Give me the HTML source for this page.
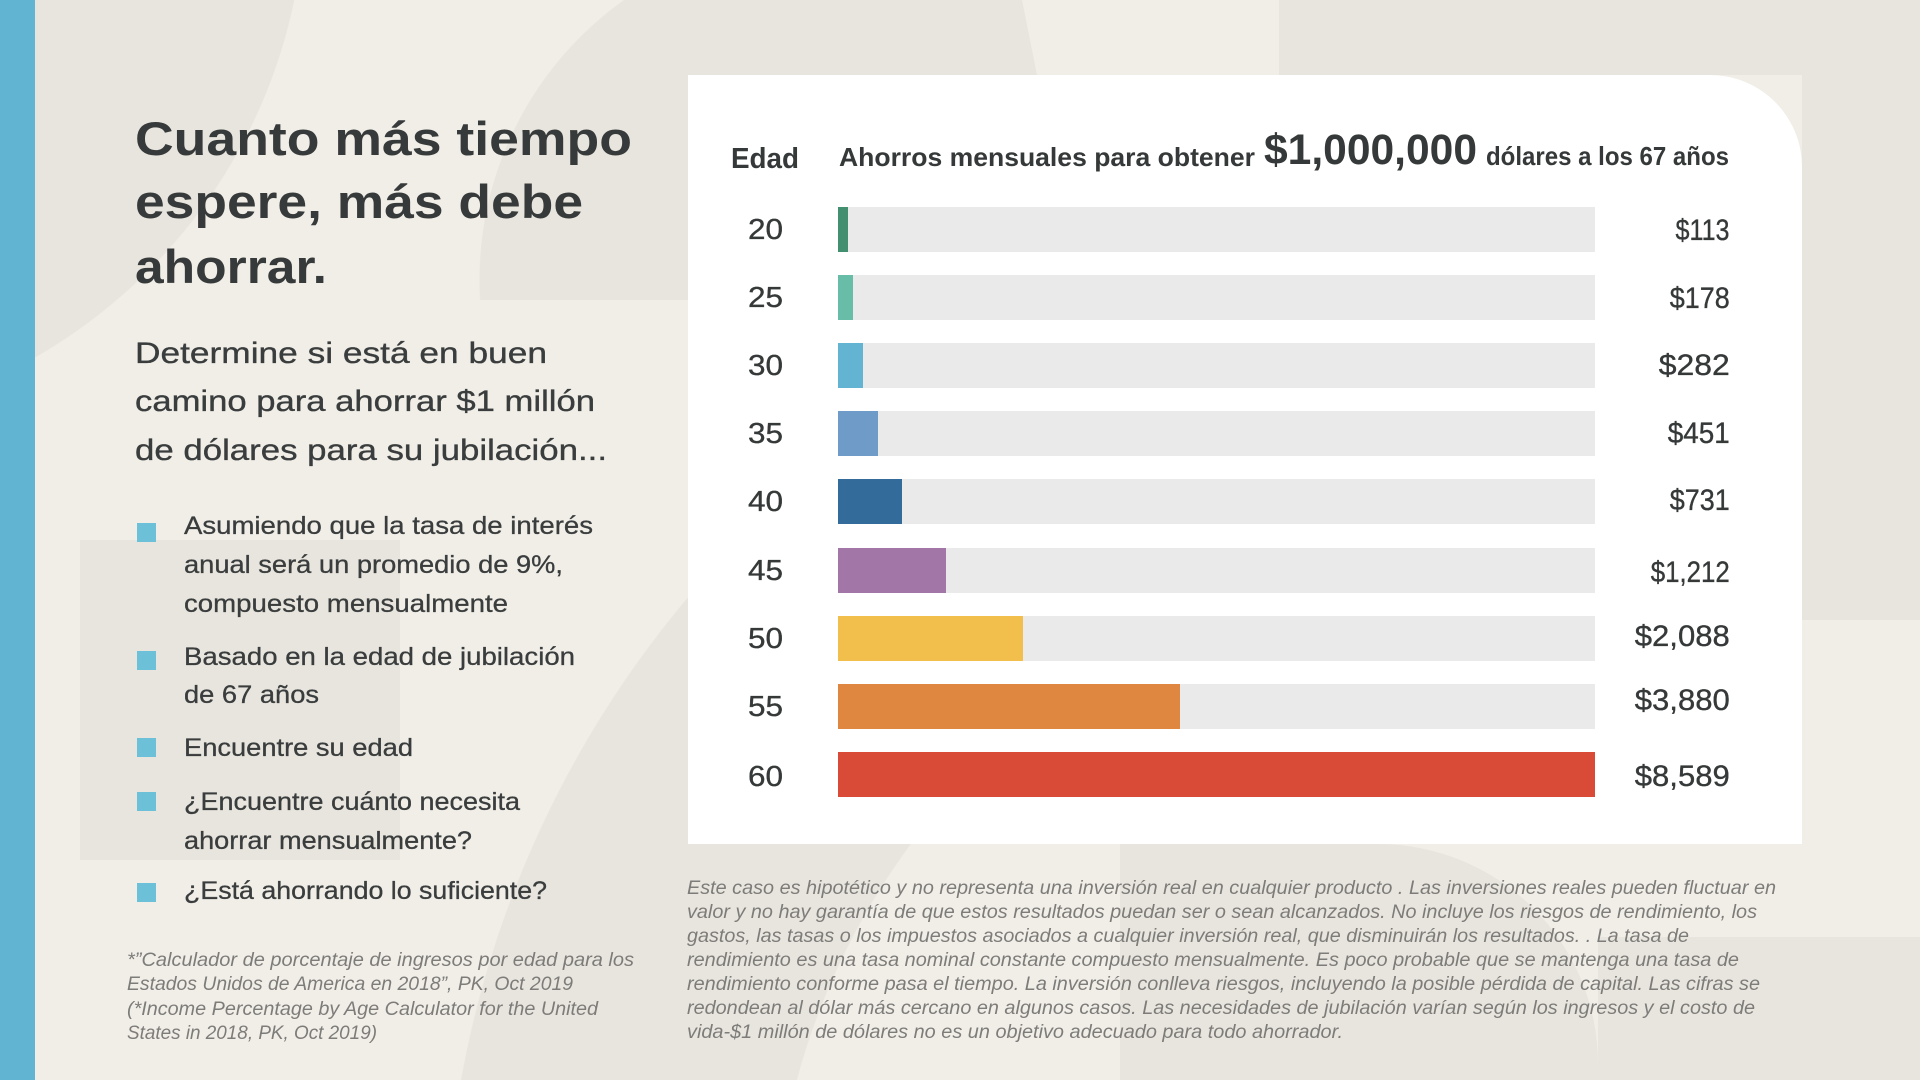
<!DOCTYPE html>
<html><head><meta charset="utf-8"><style>
html,body{margin:0;padding:0;width:1920px;height:1080px;overflow:hidden}
body{background:#f1eee8;font-family:"Liberation Sans",Arial,sans-serif;color:#3a3d3d}
#root{position:relative;width:1920px;height:1080px;overflow:hidden;background:#f1eee8}
.a{position:absolute}
.d{background:#e8e5de}
.t{position:absolute;white-space:nowrap;line-height:1;transform-origin:0 50%}
.ti{font-weight:bold;font-size:47px;left:135px;color:#373a3a}
.su{font-size:30px;left:135px;-webkit-text-stroke:0.35px #3a3d3d}
.bu{font-size:25px;left:184px;-webkit-text-stroke:0.3px #3a3d3d}
.sq{position:absolute;left:137px;width:19px;height:19px;background:#6cc0d7}
.fn{font-size:19px;font-style:italic;color:#7d7c79}
.fl{left:127px}
.fr{left:687px}
.trk{position:absolute;left:838px;width:757px;height:45px;background:#e9eae9}
.fil{position:absolute;left:0;top:0;height:45px}
.ag{font-size:29px;left:748px;-webkit-text-stroke:0.35px #363939;color:#363939}
.va{font-size:30px;right:190px;transform-origin:100% 50%;-webkit-text-stroke:0.35px #363939;color:#363939}
.hd{font-weight:bold;color:#363939}
</style></head><body>
<div id="root">

<!-- background shapes -->
<div class="a" style="left:0;top:0;width:400px;height:400px;background:radial-gradient(circle at -232px -109px,#e8e5de 537px,rgba(232,229,222,0) 538px)"></div>
<div class="a" style="left:0;top:0;width:1100px;height:300px;clip-path:polygon(0 0,1022px 0,1040px 90px,1040px 300px,0 300px);background:radial-gradient(circle at 823px 280px,#e8e5de 343px,rgba(232,229,222,0) 344px)"></div>
<div class="a d" style="left:1279px;top:0;width:641px;height:75px"></div>
<div class="a d" style="left:1802px;top:0;width:118px;height:620px"></div>
<div class="a d" style="left:80px;top:540px;width:320px;height:320px"></div>
<div class="a" style="left:0;top:300px;width:1120px;height:780px;background:radial-gradient(circle at 1479px 964px,rgba(232,229,222,0) 706px,#e8e5de 707px,#e8e5de 1034px,rgba(232,229,222,0) 1035px)"></div>
<div class="a d" style="left:1120px;top:844px;width:478px;height:236px;border-top-right-radius:220px"></div>
<div class="a d" style="left:1598px;top:937px;width:322px;height:143px"></div>

<!-- left stripe -->
<div class="a" style="left:0;top:0;width:35px;height:1080px;background:#62b4d3"></div>

<!-- title -->
<div class="t ti" style="top:115px;--w:497px">Cuanto más tiempo</div>
<div class="t ti" style="top:178px;--w:448px">espere, más debe</div>
<div class="t ti" style="top:243px;--w:192px">ahorrar.</div>

<!-- subtitle -->
<div class="t su" style="top:338.6px;--w:412px">Determine si está en buen</div>
<div class="t su" style="top:386.6px;--w:460px">camino para ahorrar $1 millón</div>
<div class="t su" style="top:435.6px;--w:472px">de dólares para su jubilación...</div>

<!-- bullets -->
<div class="sq" style="top:523px"></div>
<div class="sq" style="top:651px"></div>
<div class="sq" style="top:738px"></div>
<div class="sq" style="top:792px"></div>
<div class="sq" style="top:883px"></div>
<div class="t bu" style="top:513.8px;--w:409px">Asumiendo que la tasa de interés</div>
<div class="t bu" style="top:552.8px;--w:379px">anual será un promedio de 9%,</div>
<div class="t bu" style="top:591.8px;--w:324px">compuesto mensualmente</div>
<div class="t bu" style="top:644.8px;--w:391px">Basado en la edad de jubilación</div>
<div class="t bu" style="top:682.8px;--w:135px">de 67 años</div>
<div class="t bu" style="top:735.8px;--w:229px">Encuentre su edad</div>
<div class="t bu" style="top:789.8px;--w:336px">¿Encuentre cuánto necesita</div>
<div class="t bu" style="top:828.8px;--w:288px">ahorrar mensualmente?</div>
<div class="t bu" style="top:878.8px;--w:363px">¿Está ahorrando lo suficiente?</div>

<!-- left footnote -->
<div class="t fn fl" style="top:950.9px;--w:507px">*”Calculador de porcentaje de ingresos por edad para los</div>
<div class="t fn fl" style="top:975.2px;--w:446px">Estados Unidos de America en 2018”, PK, Oct 2019</div>
<div class="t fn fl" style="top:999.5px;--w:471px">(*Income Percentage by Age Calculator for the United</div>
<div class="t fn fl" style="top:1023.9px;--w:250px">States in 2018, PK, Oct 2019)</div>

<!-- card -->
<div class="a" style="left:688px;top:75px;width:1114px;height:769px;background:#fff;border-top-right-radius:92px"></div>

<!-- chart header -->
<div class="t hd" style="left:731px;top:144.5px;font-size:29px;--w:68px">Edad</div>
<div class="t hd" style="left:839px;top:144px;font-size:26px;--w:416px">Ahorros mensuales para obtener</div>
<div class="t hd" style="left:1264px;top:128.6px;font-size:43px;--w:213px">$1,000,000</div>
<div class="t hd" style="left:1486px;top:143px;font-size:26px;--w:243px">dólares a los 67 años</div>

<!-- bars -->
<div class="trk" style="top:207px"><div class="fil" style="width:10px;background:#42906f"></div></div>
<div class="trk" style="top:275px"><div class="fil" style="width:15px;background:#68bda8"></div></div>
<div class="trk" style="top:343px"><div class="fil" style="width:25px;background:#62b4d2"></div></div>
<div class="trk" style="top:411px"><div class="fil" style="width:40px;background:#6f9bc8"></div></div>
<div class="trk" style="top:479px"><div class="fil" style="width:64px;background:#336b9a"></div></div>
<div class="trk" style="top:548px"><div class="fil" style="width:108px;background:#a277a7"></div></div>
<div class="trk" style="top:616px"><div class="fil" style="width:185px;background:#f2bf4c"></div></div>
<div class="trk" style="top:684px"><div class="fil" style="width:342px;background:#df8740"></div></div>
<div class="trk" style="top:752px"><div class="fil" style="width:757px;background:#d94b37"></div></div>

<!-- ages -->
<div class="t ag" style="top:215.5px;--w:35px">20</div>
<div class="t ag" style="top:283.5px;--w:35px">25</div>
<div class="t ag" style="top:351.5px;--w:35px">30</div>
<div class="t ag" style="top:419.5px;--w:35px">35</div>
<div class="t ag" style="top:487.5px;--w:35px">40</div>
<div class="t ag" style="top:556.5px;--w:35px">45</div>
<div class="t ag" style="top:624.5px;--w:35px">50</div>
<div class="t ag" style="top:692.5px;--w:35px">55</div>
<div class="t ag" style="top:762.5px;--w:35px">60</div>

<!-- values -->
<div class="t va" style="top:215.6px;--w:54px">$113</div>
<div class="t va" style="top:283.6px;--w:60px">$178</div>
<div class="t va" style="top:350.6px;--w:71px">$282</div>
<div class="t va" style="top:418.6px;--w:62px">$451</div>
<div class="t va" style="top:485.6px;--w:60px">$731</div>
<div class="t va" style="top:557.6px;--w:79px">$1,212</div>
<div class="t va" style="top:621.6px;--w:95px">$2,088</div>
<div class="t va" style="top:685.6px;--w:95px">$3,880</div>
<div class="t va" style="top:761.6px;--w:95px">$8,589</div>

<!-- right footnote -->
<div class="t fn fr" style="top:878.9px;--w:1089px">Este caso es hipotético y no representa una inversión real en cualquier producto . Las inversiones reales pueden fluctuar en</div>
<div class="t fn fr" style="top:902.9px;--w:1070px">valor y no hay garantía de que estos resultados puedan ser o sean alcanzados. No incluye los riesgos de rendimiento, los</div>
<div class="t fn fr" style="top:926.9px;--w:1002px">gastos, las tasas o los impuestos asociados a cualquier inversión real, que disminuirán los resultados. . La tasa de</div>
<div class="t fn fr" style="top:950.9px;--w:1052px">rendimiento es una tasa nominal constante compuesto mensualmente. Es poco probable que se mantenga una tasa de</div>
<div class="t fn fr" style="top:974.9px;--w:1073px">rendimiento conforme pasa el tiempo. La inversión conlleva riesgos, incluyendo la posible pérdida de capital. Las cifras se</div>
<div class="t fn fr" style="top:998.9px;--w:1068px">redondean al dólar más cercano en algunos casos. Las necesidades de jubilación varían según los ingresos y el costo de</div>
<div class="t fn fr" style="top:1022.9px;--w:656px">vida-$1 millón de dólares no es un objetivo adecuado para todo ahorrador.</div>

</div>
<script>
function fit(){
  var els=document.querySelectorAll('.t');
  for(var i=0;i<els.length;i++){
    var e=els[i];
    var w=parseFloat(e.style.getPropertyValue('--w'));
    if(!w)continue;
    e.style.transform='none';
    var r=e.getBoundingClientRect().width;
    if(r>0)e.style.transform='scaleX('+(w/r)+')';
  }
}
fit();
if(document.fonts&&document.fonts.ready){document.fonts.ready.then(fit);}
</script>
</body></html>
